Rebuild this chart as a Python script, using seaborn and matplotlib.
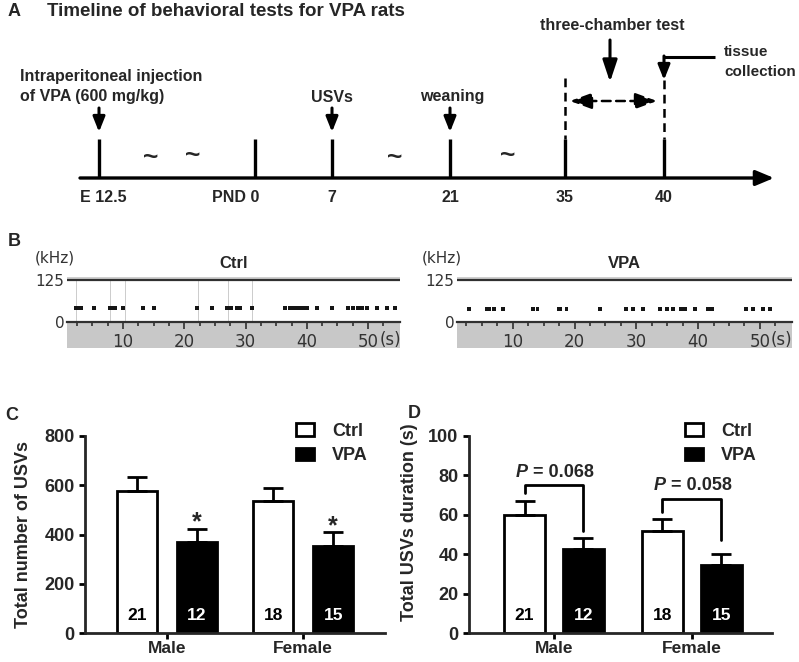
import matplotlib
matplotlib.use("Agg")
import matplotlib.pyplot as plt
from matplotlib.patches import Patch
import numpy as np
import pandas as pd
import seaborn as sns

# ---- panel A: timeline
tl_labels = ["E 12.5", "PND 0", "7", "21", "35", "40"]

# ---- panel B: call onsets (s)
ctrl_calls = [2.3, 2.8, 3.2, 5.3, 7.9, 8.4, 8.7, 10.0, 13.3, 15.1, 22.1, 24.5,
              27.0, 27.6, 28.6, 29.1, 31.1, 36.4, 37.3, 37.8, 38.4, 38.9, 39.4,
              40.0, 41.7, 44.1, 46.7, 47.5, 48.4, 49.0, 49.8, 51.5, 53.1, 54.4]
ctrl_streaks = [2.4, 7.8, 10.3, 22.3, 27.2, 31.0]
vpa_calls = [2.9, 5.9, 6.2, 7.0, 8.4, 13.3, 14.0, 17.4, 17.6, 18.7, 24.1, 28.4,
             29.5, 31.1, 33.8, 34.9, 36.0, 37.3, 37.9, 39.5, 41.6, 42.2, 47.8,
             48.9, 50.5, 51.6]
ctrl_freq = 43
vpa_freq = 40

# ---- panels C / D
sexes = ["Male", "Female"]
groups = ["Ctrl", "VPA"]
count_ctrl = [575, 535]
count_vpa = [370, 355]
count_ctrl_sem = [57, 54]
count_vpa_sem = [54, 54]
dur_ctrl = [60.0, 51.6]
dur_vpa = [42.8, 34.4]
dur_ctrl_sem = [6.8, 6.3]
dur_vpa_sem = [5.4, 5.9]
n_ctrl = [21, 18]
n_vpa = [12, 15]
p_text = ["0.068", "0.058"]
bracket_top = [75.0, 68.2]
bracket_left = [71.1, 61.4]
bracket_right = [51.6, 47.4]

sns.set_style("ticks")
plt.rcParams["font.family"] = ["Liberation Sans", "DejaVu Sans"]
plt.rcParams["font.weight"] = "bold"
plt.rcParams["axes.labelweight"] = "bold"

W, H = 799, 662
fig = plt.figure(figsize=(W / 100, H / 100), dpi=100)


def fbox(x0, y0, x1, y1):
    return [x0 / W, 1 - y1 / H, (x1 - x0) / W, (y1 - y0) / H]


def ftxt(x, y, s, **kw):
    fig.text(x / W, 1 - y / H, s, **kw)


# ================= A =================
ax = fig.add_axes(fbox(0, 0, W, 215))
ax.set_xlim(0, W)
ax.set_ylim(215, 0)
ax.axis("off")
tl_x = [99, 255, 332, 450, 565, 664]
ax.annotate("", xy=(774, 178), xytext=(80, 178),
            arrowprops=dict(arrowstyle="-|>,head_length=0.55,head_width=0.23",
                            lw=2.4, color="k", mutation_scale=20, shrinkA=0, shrinkB=0))
ax.vlines(tl_x, 139, 178, color="k", lw=2.4)
ha = ["center", "right", "center", "center", "center", "center"]
off = [4, 4, 0, 0, 0, 0]
for x, lab, h, o in zip(tl_x, tl_labels, ha, off):
    ax.text(x + o, 197, lab, ha=h, va="center", fontsize=11.5)

down = dict(arrowstyle="-|>,head_length=0.45,head_width=0.18", lw=2.2, color="k",
            mutation_scale=20, shrinkA=0, shrinkB=0)
for x in [tl_x[0], tl_x[2], tl_x[3]]:
    ax.annotate("", xy=(x, 132), xytext=(x, 108), arrowprops=down)
fs = 11.5
ax.text(20, 77, "Intraperitoneal injection", ha="left", va="center", fontsize=fs)
ax.text(20, 97, "of VPA (600 mg/kg)", ha="left", va="center", fontsize=fs)
ax.text(332, 97, "USVs", ha="center", va="center", fontsize=fs)
ax.text(452, 96, "weaning", ha="center", va="center", fontsize=fs)
ax.text(612, 25, "three-chamber test", ha="center", va="center", fontsize=fs)
ax.text(724, 52, "tissue", ha="left", va="center", fontsize=11)
ax.text(724, 72, "collection", ha="left", va="center", fontsize=11)
for x, y in [(151, 158), (193, 156), (395, 158), (508, 156)]:
    ax.text(x, y, "~", ha="center", va="center", fontsize=19)

ax.annotate("", xy=(610, 82), xytext=(610, 40),
            arrowprops=dict(arrowstyle="-|>,head_length=0.6,head_width=0.2", lw=2.2,
                            color="k", mutation_scale=22, shrinkA=0, shrinkB=0))
ax.vlines([tl_x[4], tl_x[5]], [78, 80], 139, color="k", lw=1.8, linestyles=(0, (3.5, 2.2)))
ax.plot([715, tl_x[5]], [57, 57], color="k", lw=2.2, solid_capstyle="butt")
ax.annotate("", xy=(tl_x[5], 80), xytext=(tl_x[5], 56), arrowprops=down)
ax.annotate("", xy=(570, 101), xytext=(657, 101),
            arrowprops=dict(arrowstyle="<|-|>,head_length=0.6,head_width=0.22", lw=1.8,
                            ls=(0, (3.5, 2.2)), color="k", mutation_scale=22,
                            shrinkA=0, shrinkB=0))
ftxt(8, 12, "A", fontsize=13, va="center", ha="left")
ftxt(47, 12, "Timeline of behavioral tests for VPA rats", fontsize=13.5,
     va="center", ha="left")

# ================= B =================
ftxt(8, 242, "B", fontsize=13, va="center", ha="left")
grey_font = dict(family=["DejaVu Sans"], weight="normal", color="#333333")


def sono(box, calls, freq, streaks, title, xlim, kx):
    a = fig.add_axes(fbox(*box))
    a.set_xlim(*xlim)
    a.set_ylim(-77, 137)
    a.axhspan(-77, 0, color="#c8c8c8", lw=0, zorder=0)
    a.axhspan(125, 134, color="#cfcfcf", lw=0, zorder=0)
    a.axhline(125, color="#303030", lw=1.6)
    a.vlines(streaks, 0, 125, color="#c4c4c4", lw=0.6, zorder=1)
    sns.scatterplot(x=calls, y=[freq] * len(calls), ax=a, marker="s", s=8,
                    color="#151515", edgecolor="none", zorder=3)
    for s in ["top", "right", "left"]:
        a.spines[s].set_visible(False)
    a.spines["bottom"].set_position(("data", 0))
    a.spines["bottom"].set_linewidth(1.6)
    a.spines["bottom"].set_color("#303030")
    a.set_xticks([10, 20, 30, 40, 50])
    a.set_xticklabels(["10", "20", "30", "40", "50"], fontsize=12, **grey_font)
    a.set_xticks([t for t in np.arange(2.5, 55, 2.5) if t % 10], minor=True)
    a.tick_params(axis="x", which="major", direction="out", length=5, width=1.2,
                  color="#303030", pad=3)
    a.tick_params(axis="x", which="minor", direction="out", length=3, width=1.2,
                  color="#303030")
    a.set_yticks([0, 125])
    a.set_yticklabels(["0", "125"], fontsize=11, **grey_font)
    a.tick_params(axis="y", length=0, pad=2)
    a.annotate("(s)", xy=(50, 0), xytext=(8, -13), textcoords="offset points",
               ha="left", va="center", fontsize=12, **grey_font)
    a.set_title(title, fontsize=12, fontweight="bold", pad=6)
    ftxt(kx, 258, "(kHz)", fontsize=11, ha="left", va="center", **grey_font)
    return a


sono((67, 276, 400, 348), ctrl_calls, ctrl_freq, ctrl_streaks, "Ctrl", (0.86, 55.2), 35)
sono((457, 276, 792, 348), vpa_calls, vpa_freq, [], "VPA", (0.97, 55.2), 422)

# ================= C / D =================
pal = {"Ctrl": "white", "VPA": "black"}


def bars(box, ctrl, vpa, ctrl_err, vpa_err, ymax, ystep, ylabel, xlim, width, gap,
         lab_xy, leg_xy):
    a = fig.add_axes(fbox(*box))
    df = pd.DataFrame({"sex": sexes * 2,
                       "group": ["Ctrl"] * 2 + ["VPA"] * 2,
                       "value": ctrl + vpa})
    sns.barplot(data=df, x="sex", y="value", hue="group", hue_order=groups,
                order=sexes, palette=pal, edgecolor="black", linewidth=2,
                width=width, gap=gap, errorbar=None, legend=False, ax=a)
    centers = []
    for p, m, e in zip(a.patches, ctrl + vpa, ctrl_err + vpa_err):
        cx = p.get_x() + p.get_width() / 2
        centers.append(cx)
        a.errorbar(cx, m, yerr=[[0], [e]], fmt="none", ecolor="black",
                   elinewidth=2, capsize=7.5, capthick=2, zorder=1)
    for cx, n, c in zip(centers, n_ctrl + n_vpa, ["black"] * 2 + ["white"] * 2):
        a.text(cx, 0.09, str(n), transform=a.get_xaxis_transform(), ha="center",
               va="center", color=c, fontsize=12.5)
    a.set_xlim(*xlim)
    a.set_ylim(0, ymax)
    a.set_yticks(np.arange(0, ymax + 1, ystep))
    a.set_xlabel("")
    a.set_ylabel(ylabel, fontsize=13)
    a.yaxis.set_label_coords(*lab_xy)
    sns.despine(ax=a)
    for s in ["left", "bottom"]:
        a.spines[s].set_linewidth(2)
    a.tick_params(axis="both", width=2, length=4.5, labelsize=13, color="black")
    a.tick_params(axis="y", pad=3)
    a.tick_params(axis="x", pad=1.5, labelsize=12.5)
    handles = [Patch(facecolor="white", edgecolor="black", lw=2, label="Ctrl"),
               Patch(facecolor="black", edgecolor="black", lw=2, label="VPA")]
    a.legend(handles=handles, loc="upper left",
             bbox_to_anchor=(leg_xy[0] / W, 1 - leg_xy[1] / H),
             bbox_transform=fig.transFigure, frameon=False, fontsize=13,
             handlelength=1.0, handleheight=0.7, handletextpad=1.0,
             labelspacing=0.4, borderpad=0, borderaxespad=0)
    return a, centers


axc, cc = bars((85, 436, 385, 633), count_ctrl, count_vpa, count_ctrl_sem, count_vpa_sem,
               800, 200, "Total number of USVs", (-0.6, 1.6), 0.88, 0.33,
               (-0.178, 0.5), (296, 423))
for i in range(2):
    axc.annotate("*", xy=(cc[2 + i], count_vpa[i] + count_vpa_sem[i]),
                 xytext=(0, -4), textcoords="offset points", ha="center",
                 va="bottom", fontsize=18)
ftxt(5, 416, "C", fontsize=13, ha="left", va="center")

axd, cd = bars((469, 436, 772, 633), dur_ctrl, dur_vpa, dur_ctrl_sem, dur_vpa_sem,
               100, 20, "Total USVs duration (s)", (-0.616, 1.58), 0.855, 0.3,
               (-0.168, 0.56), (685, 423))
for i in range(2):
    xl, xr = cd[i], cd[2 + i]
    axd.plot([xl, xl, xr, xr], [bracket_left[i], bracket_top[i], bracket_top[i],
                                bracket_right[i]], color="black", lw=2)
    xm = (xl + xr) / 2
    axd.annotate("P", xy=(xm, bracket_top[i]), xytext=(-19, 3),
                 textcoords="offset points", ha="right", va="bottom",
                 fontsize=13, fontstyle="italic")
    axd.annotate(" = " + p_text[i], xy=(xm, bracket_top[i]), xytext=(-19, 3),
                 textcoords="offset points", ha="left", va="bottom", fontsize=13)
ftxt(408, 414, "D", fontsize=13, ha="left", va="center")

fig.savefig("out.png", dpi=100)
